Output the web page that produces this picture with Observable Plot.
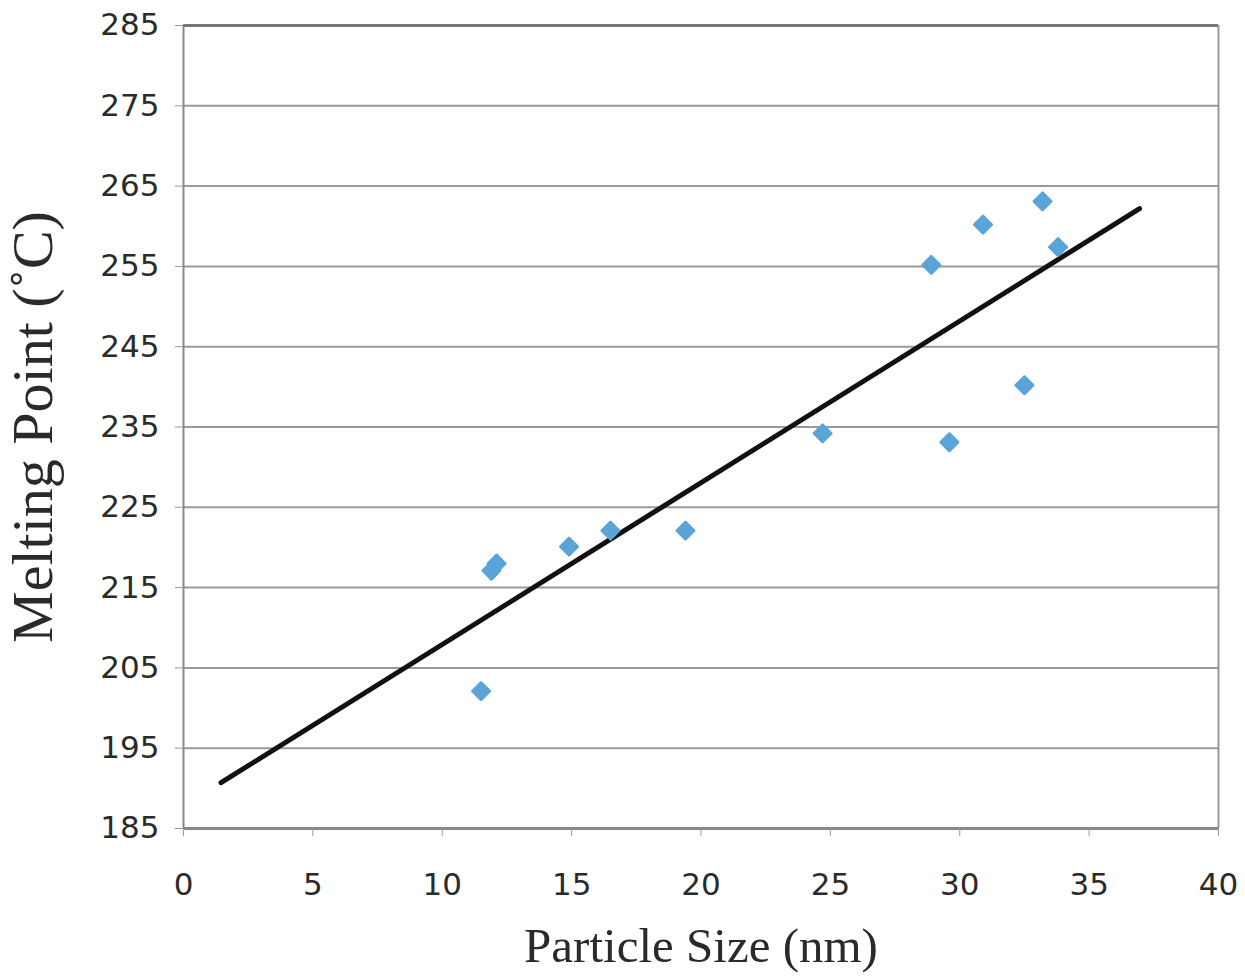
<!DOCTYPE html>
<html>
<head>
<meta charset="utf-8">
<script src="https://cdn.jsdelivr.net/npm/d3@7"></script>
<script src="https://cdn.jsdelivr.net/npm/@observablehq/plot@0.6"></script>
<style>
  html, body { margin: 0; padding: 0; background: #fff; }
  #chart svg { display: block; }
</style>
</head>
<body>
<div id="chart"></div>
<script>
// Data
const particleSize = [11.5, 11.9, 12.1, 14.9, 16.5, 19.4, 24.7, 28.9, 29.6, 30.9, 32.5, 33.2, 33.8];
const meltingPoint = [202.1, 217.1, 218.0, 220.1, 222.1, 222.1, 234.2, 255.2, 233.1, 260.2, 240.2, 263.1, 257.4];
const fitX = [1.45, 36.95];
const fitY = [190.7, 262.2];
const xTicks = [0, 5, 10, 15, 20, 25, 30, 35, 40];
const yTicks = [185, 195, 205, 215, 225, 235, 245, 255, 265, 275, 285];
const gridY = [195, 205, 215, 225, 235, 245, 255, 265, 275];
const xLabel = "Particle Size (nm)";
const yLabel = "Melting Point (\u02daC)";

const points = particleSize.map((x, i) => ({x, y: meltingPoint[i]}));
const fit = fitX.map((x, i) => ({x, y: fitY[i]}));

const chart = Plot.plot({
  width: 1245,
  height: 978,
  marginLeft: 183,
  marginRight: 27,
  marginTop: 25,
  marginBottom: 150,
  style: {fontFamily: "DejaVu Sans", fontSize: "31px", color: "#2a2a2a", background: "#fff"},
  x: {domain: [0, 40]},
  y: {domain: [185, 285]},
  marks: [
    Plot.ruleY(gridY, {stroke: "#9a9a9a", strokeWidth: 2}),
    Plot.ruleY([285], {stroke: "#777", strokeWidth: 3}),
    Plot.ruleX([40], {stroke: "#999", strokeWidth: 2}),
    Plot.ruleX([0], {stroke: "#888", strokeWidth: 2}),
    Plot.ruleY([185], {stroke: "#888", strokeWidth: 3}),
    Plot.axisX({ticks: xTicks, tickSize: 8, tickPadding: 36, stroke: "#999", label: null, fill: "#2a2a2a"}),
    Plot.axisY({ticks: yTicks, tickSize: 8, tickPadding: 16, stroke: "#999", label: null, fill: "#2a2a2a"}),
    Plot.line(fit, {x: "x", y: "y", stroke: "#111", strokeWidth: 5}),
    Plot.dot(points, {x: "x", y: "y", symbol: "square", rotate: 45, r: 7, fill: "#5aa4d8", stroke: "#5aa4d8", strokeWidth: 2.5, strokeLinejoin: "round"}),
    Plot.text([xLabel], {frameAnchor: "bottom", dy: 133, fontFamily: "Liberation Serif", fontSize: 49, fill: "#2a2a2a"}),
    Plot.text([yLabel], {frameAnchor: "left", textAnchor: "middle", dx: -150, rotate: -90, fontFamily: "Liberation Serif", fontSize: 58, fill: "#2a2a2a"})
  ]
});
document.getElementById("chart").appendChild(chart);
</script>
</body>
</html>
